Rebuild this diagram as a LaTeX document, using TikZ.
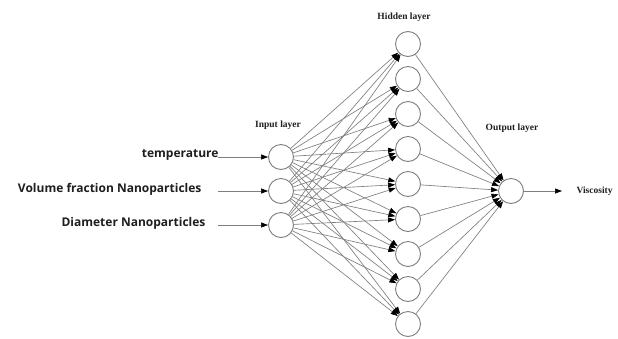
\documentclass[tikz,border=0pt]{standalone}
\usepackage{fontspec}
\setmainfont{Liberation Serif}
\newfontfamily\featfont{Open Sans}
\usetikzlibrary{arrows.meta}
\definecolor{Wire}{HTML}{7E7E7E}
\definecolor{Ink}{HTML}{1E1E1E}

\begin{document}
\begin{tikzpicture}[x=1pt,y=-1pt,
  neuron/.style={circle,draw=Wire,fill=white,line width=0.9pt,minimum size=25pt,inner sep=0pt},
  wire/.style={draw=Wire,line width=0.65pt,-{Triangle[color=black,length=7pt,width=5pt]}},
  layertag/.style={font=\fontsize{9.5}{10}\selectfont\bfseries\color{Ink}},
  feature/.style={anchor=east,font=\featfont\fontsize{12}{14}\selectfont\bfseries\color{Ink}}]
\path[use as bounding box,fill=white] (0,0) rectangle (618,338);

% layer titles
\node[layertag] (tagin) at (278,125) {Input layer};
\node[layertag] (taghid) at (404,17) {Hidden layer};
\node[layertag] (tagout) at (512,128) {Output layer};

% input layer with its features
\foreach \i/\y/\txt/\xe in {1/157/temperature/222,2/191/Volume fraction Nanoparticles/205,3/225/Diameter Nanoparticles/209}{
  \node[neuron] (in\i) at (281,\y) {};
  \node[feature] (feat\i) at (\xe,\y-2) {\txt};
  \coordinate (src\i) at (218,\y);
  \draw[wire] (src\i) -- (in\i);
}

% hidden layer
\foreach \h in {1,...,9}{
  \node[neuron] (hid\h) at (408,9+35*\h) {};
}

% output layer
\node[neuron] (out) at (511,191) {};
\coordinate (sink) at (562,191);
\node[anchor=west,layertag] (res) at (573,191) {Viscosity};

% connections
\foreach \i in {1,2,3}{
  \foreach \h in {1,...,9}{
    \draw[wire] (in\i) -- (hid\h);
  }
}
\foreach \h in {1,...,9}{
  \draw[wire] (hid\h) -- (out);
}
\draw[wire] (out) -- (sink);
\end{tikzpicture}
\end{document}
